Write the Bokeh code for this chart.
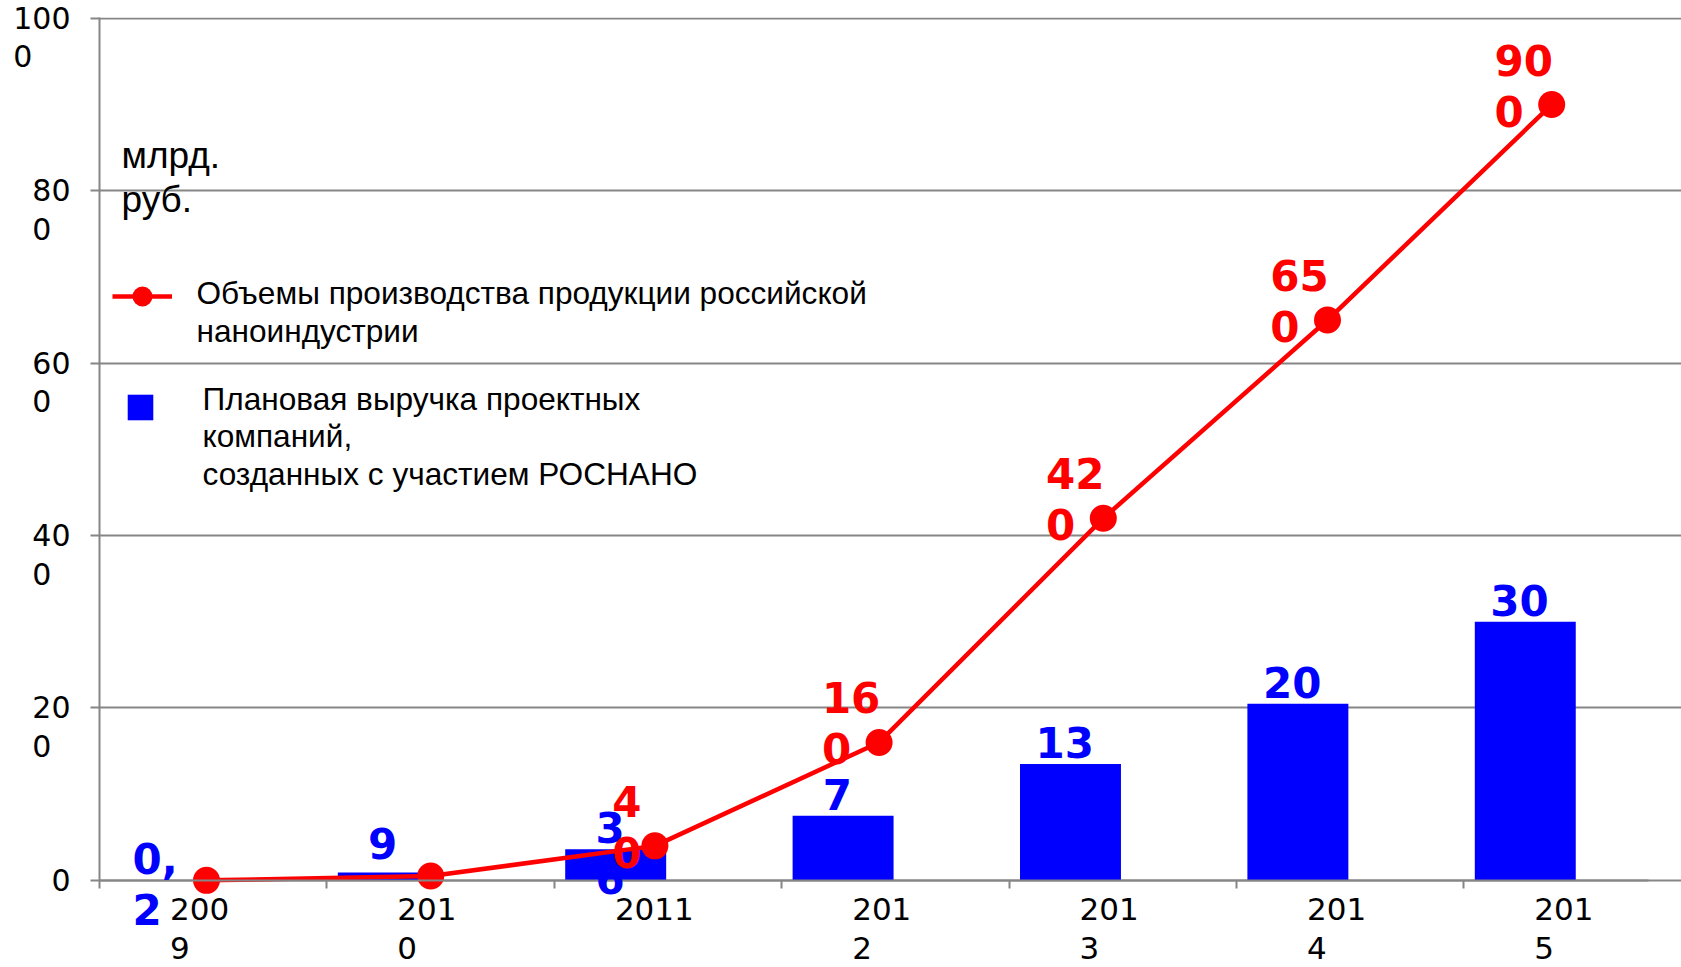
import numpy as np
from bokeh.plotting import figure
from bokeh.models import (ColumnDataSource, FixedTicker, Range1d, Legend, LegendItem,
                          LabelSet, Label)
from bokeh.transform import dodge
from bokeh.core.properties import value
from bokeh.embed import file_html
from bokeh.resources import INLINE

# ---------------- data ----------------
years = ["2009", "2010", "2011", "2012", "2013", "2014", "2015"]
FS = "\u2007"  # figure space keeps wrapped lines left-aligned
year_labels = ["200\n9" + FS * 2, "201\n0" + FS * 2, "2011", "201\n2" + FS * 2,
               "201\n3" + FS * 2, "201\n4" + FS * 2, "201\n5" + FS * 2]
revenue = [0.2, 9, 36, 75, 135, 205, 300]
revenue_labels = ["0,\n2", "9", "3\n6", "7\n5", "13\n5", "20\n5", "30\n0"]
production = [0, 5, 40, 160, 420, 650, 900]
production_labels = ["", "", "4\n0", "16\n0", "42\n0", "65\n0", "90\n0"]
y_ticks = [0, 200, 400, 600, 800, 1000]
y_tick_labels = ["0", "\n20\n0" + FS, "\n40\n0" + FS, "\n60\n0" + FS, "\n80\n0" + FS,
                 "100\n0" + FS * 2]
unit_text = "млрд.\nруб."
name_production = "Объемы производства продукции российской\nнаноиндустрии"
name_revenue = "Плановая выручка проектных\nкомпаний,\nсозданных с участием РОСНАНО"

RED = "#FF0000"
BLUE = "#0000FF"
GRID = "#868686"

idx = list(range(len(years)))
src = ColumnDataSource(dict(idx=idx, year=years, revenue=revenue, rlab=revenue_labels,
                            production=production, plab=production_labels))

W, H = 1681, 967
p = figure(width=W, height=H, output_backend="svg", toolbar_location=None,
           x_range=Range1d(0, 6.957), y_range=Range1d(-101.1, 1001),
           min_border_left=99, min_border_right=0, min_border_top=17, min_border_bottom=0)
p.extra_x_ranges = {"line": Range1d(-0.4773, 6.579)}
p.outline_line_color = None
p.background_fill_color = "white"

# grid
p.xgrid.grid_line_color = None
p.ygrid.ticker = FixedTicker(ticks=y_ticks)
p.ygrid.grid_line_color = GRID
p.ygrid.grid_line_width = 2

# y axis
ya = p.yaxis[0]
ya.ticker = FixedTicker(ticks=y_ticks)
ya.bounds = (-9, 1001)
ya.major_label_overrides = {t: l for t, l in zip(y_ticks, y_tick_labels)}
ya.axis_line_color = GRID
ya.axis_line_width = 2
ya.major_tick_line_color = GRID
ya.major_tick_line_width = 2
ya.major_tick_out = 9
ya.major_tick_in = 0
ya.minor_tick_line_color = None
ya.major_label_text_font = "DejaVu Sans"
ya.major_label_text_font_size = "30px"
ya.major_label_text_color = "black"
ya.major_label_text_line_height = 1.1
ya.major_label_standoff = 20

# x axis, drawn along the value 0
xa = p.xaxis[0]
xa.fixed_location = 0
label_pos = [i + 0.44 for i in idx]
xa.ticker = FixedTicker(ticks=label_pos, minor_ticks=[i for i in idx[1:]])
xa.major_label_overrides = {t: l for t, l in zip(label_pos, year_labels)}
xa.bounds = (0, 6.81)
xa.axis_line_color = GRID
xa.axis_line_width = 2
xa.major_tick_line_color = None
xa.major_tick_out = 0
xa.major_tick_in = 0
xa.minor_tick_line_color = GRID
xa.minor_tick_line_width = 2
xa.minor_tick_out = 8
xa.minor_tick_in = 0
xa.major_label_text_font = "DejaVu Sans"
xa.major_label_text_font_size = "31px"
xa.major_label_text_color = "black"
xa.major_label_text_line_height = 1.06
xa.major_label_standoff = 3

bars = p.vbar(x=dodge("idx", 0.27, range=p.x_range), top="revenue", bottom=0, width=0.444,
              source=src, fill_color=BLUE, line_color=None)

line = p.line(x="idx", y="production", source=src, x_range_name="line",
              line_color=RED, line_width=4.5)
dots = p.scatter(x="idx", y="production", source=src, x_range_name="line",
                 size=27, fill_color=RED, line_color=None)

# blue value labels (a wrapped second line falls on the bar in the same colour)
blue_labels = LabelSet(x=dodge("idx", 0.245, range=p.x_range), y="revenue", text="rlab",
                       source=src, text_font=value("DejaVu Sans"), text_font_style="bold",
                       text_font_size="42px", text_color=BLUE, text_align="center",
                       text_baseline="top", text_line_height=1.04, y_offset=45)
p.add_layout(blue_labels)

red_labels = LabelSet(x="idx", y="production", text="plab", source=src, x_range_name="line",
                      text_font=value("DejaVu Sans"), text_font_style="bold",
                      text_font_size="42px", text_color=RED, text_align="center",
                      text_baseline="top", text_line_height=1.04, x_offset=-28, y_offset=68)
p.add_layout(red_labels)

# unit label
p.add_layout(Label(x=22, y=833, x_units="screen", y_units="screen", text=unit_text,
                   text_font="Liberation Sans", text_font_size="37px", text_color="black",
                   text_baseline="top", text_align="left", text_line_height=1.09))

# legends: symbols via Legend, names as text next to them
leg1 = Legend(items=[LegendItem(label=" ", renderers=[line, dots])],
              location=(13, 646), glyph_width=60, glyph_height=50, label_standoff=0,
              padding=0, margin=0, border_line_color=None, background_fill_alpha=0,
              label_text_font_size="1px")
leg2 = Legend(items=[LegendItem(label=" ", renderers=[bars])],
              location=(25, 544), glyph_width=32, glyph_height=32, label_standoff=0,
              padding=0, margin=0, border_line_color=None, background_fill_alpha=0,
              label_text_font_size="1px")
p.add_layout(leg1)
p.add_layout(leg2)

p.add_layout(Label(x=97, y=693, x_units="screen", y_units="screen", text=name_production,
                   text_font="Liberation Sans", text_font_size="31.6px", text_color="black",
                   text_baseline="top", text_align="left", text_line_height=1.063))
p.add_layout(Label(x=103, y=587, x_units="screen", y_units="screen", text=name_revenue,
                   text_font="Liberation Sans", text_font_size="31.6px", text_color="black",
                   text_baseline="top", text_align="left", text_line_height=1.05))

open("out.html", "w").write(file_html(p, INLINE))
